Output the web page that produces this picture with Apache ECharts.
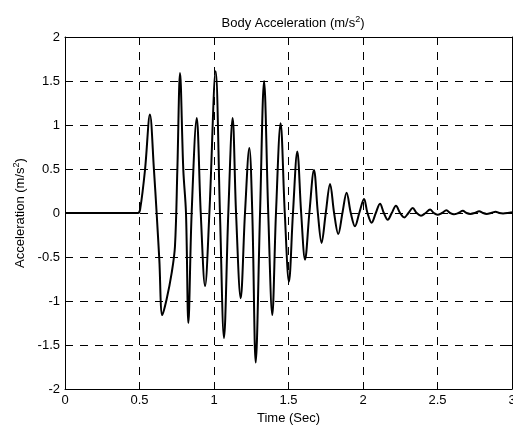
<!DOCTYPE html>
<html>
<head>
<meta charset="utf-8">
<script src="https://cdn.jsdelivr.net/npm/echarts@6/dist/echarts.min.js"></script>
<style>html,body{margin:0;padding:0;background:#fff}#c{width:513px;height:425px}</style>
</head>
<body>
<div id="c"></div>
<script>
// Time (s)
var timeSec = [0, 0.49, 0.505, 0.537, 0.570, 0.597, 0.615, 0.633, 0.653, 0.682,
  0.716, 0.738, 0.754, 0.772, 0.794, 0.812, 0.828, 0.850, 0.884, 0.911,
  0.940, 0.969, 1.011, 1.040, 1.067, 1.096, 1.125, 1.148, 1.179, 1.208,
  1.237, 1.257, 1.280, 1.309, 1.336, 1.364, 1.391, 1.416, 1.447, 1.475,
  1.503, 1.53, 1.559, 1.585, 1.611, 1.64, 1.671, 1.697, 1.722, 1.75,
  1.779, 1.806, 1.834, 1.862, 1.890, 1.918, 1.946, 1.975, 2.007, 2.03,
  2.058, 2.086, 2.114, 2.14, 2.166, 2.193, 2.221, 2.249, 2.277, 2.305,
  2.334, 2.36, 2.389, 2.42, 2.45, 2.475, 2.50, 2.53, 2.56, 2.585,
  2.61, 2.64, 2.67, 2.695, 2.72, 2.75, 2.78, 2.805, 2.83, 2.86,
  2.89, 2.915, 2.94, 2.97, 3.0];
// Body acceleration (m/s^2)
var accel = [0, 0, 0.05, 0.49, 1.12, 0.49, 0, -0.53, -1.16, -0.98,
  -0.68, -0.38, 0.49, 1.59, 0.49, 0, -1.25, 0, 1.08, 0,
  -0.83, 0, 1.61, 0, -1.42, 0, 1.08, 0, -0.97, 0,
  0.74, 0, -1.70, 0, 1.50, 0, -1.16, 0, 1.02, 0,
  -0.78, 0, 0.70, 0, -0.53, 0, 0.49, 0, -0.34, 0,
  0.33, 0, -0.24, 0, 0.23, 0, -0.15, 0, 0.16, 0,
  -0.11, 0, 0.106, 0, -0.076, 0, 0.083, 0, -0.05, 0,
  0.057, 0, -0.03, 0, 0.04, 0, -0.02, 0, 0.03, 0,
  -0.015, 0, 0.025, 0, -0.01, 0, 0.02, 0, -0.01, 0,
  0.015, 0, -0.005, 0, 0.01];
var xTicks = [0, 0.5, 1, 1.5, 2, 2.5, 3];
var yTicks = [-2, -1.5, -1, -0.5, 0, 0.5, 1, 1.5, 2];

var FONT = 'Liberation Sans';
var FS = 13;
var chart = echarts.init(document.getElementById('c'));
var pts = timeSec.map(function (t, i) { return [t, accel[i]]; });
var dash = {color: '#000', width: 1, type: [8, 7]};
var supRich = {sup: {fontSize: 9, fontFamily: FONT, color: '#000', padding: [0, 0, 7, 0]}};

function xAx(pos, main) {
  return {
    type: 'value', position: pos, min: xTicks[0], max: xTicks[xTicks.length - 1], interval: 0.5,
    axisLine: {show: true, onZero: false, lineStyle: {color: '#000', width: 1}},
    axisTick: {show: true, inside: true, length: 5, lineStyle: {color: '#000'}},
    axisLabel: {show: main, margin: 5, color: '#000', fontFamily: FONT, fontSize: FS},
    splitLine: {show: main, lineStyle: dash},
    name: main ? 'Time (Sec)' : '', nameLocation: 'middle', nameGap: 19,
    nameTextStyle: {color: '#000', fontFamily: FONT, fontSize: FS}
  };
}
function yAx(pos, main) {
  return {
    type: 'value', position: pos, min: yTicks[0], max: yTicks[yTicks.length - 1], interval: 0.5,
    axisLine: {show: true, onZero: false, lineStyle: {color: '#000', width: 1}},
    axisTick: {show: true, inside: true, length: 5, lineStyle: {color: '#000'}},
    axisLabel: {show: main, margin: 5, color: '#000', fontFamily: FONT, fontSize: FS},
    splitLine: {show: main, lineStyle: dash},
    name: main ? 'Acceleration (m/s{sup|2})' : '', nameLocation: 'middle', nameGap: 34,
    nameTextStyle: {color: '#000', fontFamily: FONT, fontSize: FS, rich: supRich}
  };
}

chart.setOption({
  animation: false,
  backgroundColor: '#fff',
  title: {
    text: 'Body Acceleration (m/s{sup|2})', left: 288, textAlign: 'center', top: 10,
    textStyle: {color: '#000', fontFamily: FONT, fontSize: FS, fontWeight: 'normal', rich: supRich}
  },
  grid: {left: 65, right: 1, top: 37, bottom: 36, outerBoundsMode: 'none', containLabel: false},
  xAxis: [xAx('bottom', true), xAx('top', false)],
  yAxis: [yAx('left', true), yAx('right', false)],
  series: [{
    type: 'line', data: pts, xAxisIndex: 0, yAxisIndex: 0,
    showSymbol: false, smooth: 0.35, clip: true,
    lineStyle: {color: '#000', width: 2}
  }]
});
</script>
</body>
</html>
